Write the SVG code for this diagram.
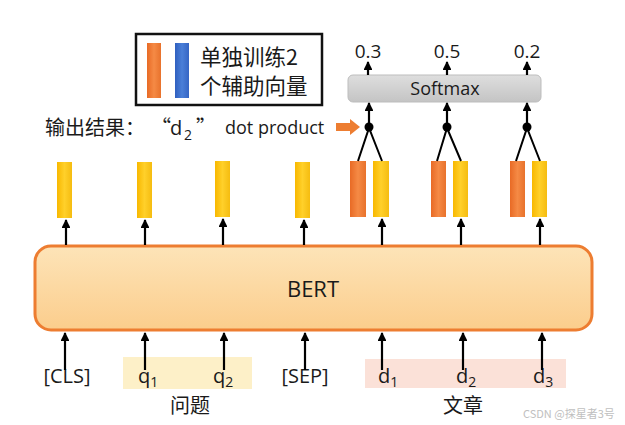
<svg xmlns="http://www.w3.org/2000/svg" width="625" height="425" viewBox="0 0 625 425">
<defs>
<linearGradient id="gY" x1="0" x2="1" y1="0" y2="0"><stop offset="0" stop-color="#f8b800"/><stop offset="0.5" stop-color="#ffd02a"/><stop offset="1" stop-color="#f5bc10"/></linearGradient>
<linearGradient id="gO" x1="0" x2="1" y1="0" y2="0"><stop offset="0" stop-color="#e86a25"/><stop offset="0.5" stop-color="#f58a45"/><stop offset="1" stop-color="#e8722c"/></linearGradient>
<linearGradient id="gB" x1="0" x2="1" y1="0" y2="0"><stop offset="0" stop-color="#2f5fbf"/><stop offset="0.5" stop-color="#4a7fd8"/><stop offset="1" stop-color="#3565c4"/></linearGradient>
<linearGradient id="gBert" x1="0" x2="0" y1="0" y2="1"><stop offset="0" stop-color="#fde4b8"/><stop offset="1" stop-color="#fbcd8c"/></linearGradient>
<linearGradient id="gSm" x1="0" x2="0" y1="0" y2="1"><stop offset="0" stop-color="#dedede"/><stop offset="1" stop-color="#c4c4c4"/></linearGradient>
<marker id="ah" viewBox="0 0 10 10" refX="9" refY="5" markerWidth="4" markerHeight="4" orient="auto"><path d="M0,0 L10,5 L0,10 z" fill="#000"/></marker>
</defs>
<style>
text{font-family:"Open Sans","Noto Sans CJK SC",sans-serif;fill:#1a1a1a}
.cjk{font-family:"Noto Sans CJK SC","Open Sans",sans-serif}
.arr{stroke:#000;stroke-width:2.2;fill:none;marker-end:url(#ah)}
.ln{stroke:#000;stroke-width:2;fill:none}
.y{fill:url(#gY)}
.o{fill:url(#gO)}
.lbl{font-size:20px}
.wm{fill:#c0c0c0}
</style>
<rect width="625" height="425" fill="#fff"/>

<g id="legend">
<rect x="136" y="34" width="186" height="71" fill="#fff" stroke="#111" stroke-width="2.5"/>
<rect x="147" y="43" width="14" height="55" class="o"/>
<rect x="175" y="43" width="14" height="55" fill="url(#gB)"/>
<text x="200" y="65" font-size="21.5" class="cjk">单独训练2</text>
<text x="200" y="94" font-size="21.5" class="cjk">个辅助向量</text>
</g>

<g id="softmax">
<rect x="348" y="75" width="193" height="27" rx="5" fill="url(#gSm)" stroke="#bdbdbd" stroke-width="1"/>
<text x="445" y="95" font-size="18" text-anchor="middle">Softmax</text>
</g>

<g id="scores" font-size="19">
<text x="368" y="58" text-anchor="middle">0.3</text>
<text x="447" y="58" text-anchor="middle">0.5</text>
<text x="527" y="58" text-anchor="middle">0.2</text>
</g>

<g id="output-label">
<text x="45" y="135" font-size="20" class="cjk">输出结果：</text>
<text x="151" y="135" font-size="20" class="cjk">“</text>
<text x="170" y="135" font-size="20">d</text>
<text x="184" y="140" font-size="14">2</text>
<text x="196" y="135" font-size="20" class="cjk">”</text>
<text x="225" y="134" font-size="18">dot product</text>
<path d="M336,123 L350,123 L350,119 L360,127 L350,135 L350,131 L336,131 z" fill="#ed7d31"/>
</g>

<g id="bert">
<rect x="35" y="246" width="557" height="84" rx="16" fill="url(#gBert)" stroke="#ed7d31" stroke-width="3"/>
<text x="313" y="297" font-size="22" text-anchor="middle">BERT</text>
</g>

<g id="vectors">
<rect x="57" y="162" width="15" height="56" class="y"/>
<rect x="137" y="162" width="15" height="56" class="y"/>
<rect x="215" y="161" width="15" height="56" class="y"/>
<rect x="295" y="162" width="15" height="56" class="y"/>
<rect x="350" y="161" width="16" height="56" class="o"/>
<rect x="373" y="161" width="16" height="56" class="y"/>
<rect x="431" y="161" width="15" height="56" class="o"/>
<rect x="453" y="161" width="15" height="56" class="y"/>
<rect x="510" y="161" width="15" height="56" class="o"/>
<rect x="532" y="161" width="15" height="56" class="y"/>
</g>

<g id="input-bg">
<rect x="123" y="357" width="129" height="32" fill="#fdf0c8"/>
<rect x="365" y="359" width="201" height="29" fill="#fbe1d8"/>
</g>

<g id="inputs" class="lbl">
<text x="67" y="383" text-anchor="middle">[CLS]</text>
<text x="138" y="383">q<tspan font-size="14" dy="4">1</tspan></text>
<text x="213" y="383">q<tspan font-size="14" dy="4">2</tspan></text>
<text x="305" y="383" text-anchor="middle">[SEP]</text>
<text x="378" y="383">d<tspan font-size="14" dy="4">1</tspan></text>
<text x="456" y="383">d<tspan font-size="14" dy="4">2</tspan></text>
<text x="533" y="383">d<tspan font-size="14" dy="4">3</tspan></text>
<text x="190" y="413" text-anchor="middle" class="cjk" font-size="20">问题</text>
<text x="463" y="413" text-anchor="middle" class="cjk" font-size="20">文章</text>
</g>

<g id="connectors">
<line class="arr" x1="65" y1="370" x2="65" y2="333"/>
<line class="arr" x1="145" y1="370" x2="145" y2="333"/>
<line class="arr" x1="224" y1="370" x2="224" y2="333"/>
<line class="arr" x1="305" y1="370" x2="305" y2="333"/>
<line class="arr" x1="382" y1="370" x2="382" y2="333"/>
<line class="arr" x1="463" y1="370" x2="463" y2="333"/>
<line class="arr" x1="542" y1="370" x2="542" y2="333"/>

<line class="arr" x1="66" y1="245" x2="66" y2="220"/>
<line class="arr" x1="145" y1="245" x2="145" y2="220"/>
<line class="arr" x1="223" y1="245" x2="223" y2="219"/>
<line class="arr" x1="304" y1="245" x2="304" y2="220"/>
<line class="arr" x1="382" y1="245" x2="382" y2="219"/>
<line class="arr" x1="461" y1="245" x2="461" y2="219"/>
<line class="arr" x1="540" y1="245" x2="540" y2="219"/>

<path class="ln" d="M358,161 L369,128 L382,161"/>
<path class="ln" d="M437,161 L447,128 L461,161"/>
<path class="ln" d="M516,161 L527,128 L540,161"/>
<circle cx="369" cy="127" r="4.5" fill="#000"/>
<circle cx="447" cy="127" r="4.5" fill="#000"/>
<circle cx="527" cy="127" r="4.5" fill="#000"/>
<line class="arr" x1="369" y1="124" x2="369" y2="103"/>
<line class="arr" x1="447" y1="124" x2="447" y2="103"/>
<line class="arr" x1="527" y1="124" x2="527" y2="103"/>
<line class="arr" x1="368" y1="75" x2="368" y2="62"/>
<line class="arr" x1="447" y1="75" x2="447" y2="62"/>
<line class="arr" x1="527" y1="75" x2="527" y2="62"/>
</g>

<text x="523" y="418" font-size="11" class="cjk wm">CSDN @探星者3号</text>
</svg>
